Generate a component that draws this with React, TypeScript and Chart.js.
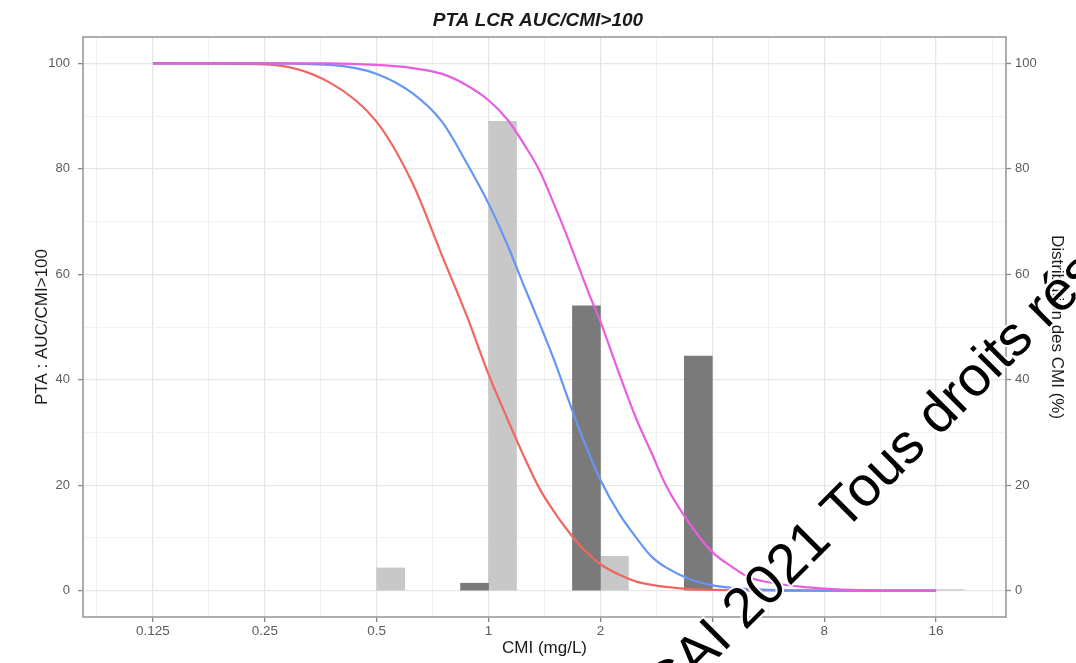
import React, { useEffect, useRef } from 'react';
import { Chart, registerables } from 'chart.js';

Chart.register(...registerables);

// PTA curves evaluated on a CMI grid (mg/L)
const cmiGrid = [0.125, 0.25, 0.375, 0.5, 0.625, 0.75, 0.875, 1, 1.125, 1.25, 1.375, 1.5, 1.625, 1.75, 1.875, 2, 2.25, 2.5, 2.75, 3, 3.5, 4, 4.5, 5, 6, 7, 8, 10, 12, 14, 16];
const ptaRed = [100, 99.8, 96.3, 88.9, 77.2, 63.5, 52.0, 41.0, 32.5, 25.2, 19.2, 15.0, 11.6, 8.8, 6.7, 5.0, 3.0, 1.7, 1.1, 0.7, 0.3, 0.15, 0.08, 0.05, 0.02, 0, 0, 0, 0, 0, 0];
const ptaBlue = [100, 100, 99.7, 98.0, 94.3, 88.9, 81.0, 73.4, 65.5, 57.5, 50.5, 43.8, 37.0, 30.8, 25.5, 21.0, 14.5, 10.0, 6.4, 4.4, 2.1, 1.0, 0.55, 0.3, 0.1, 0.05, 0, 0, 0, 0, 0];
const ptaMagenta = [100, 100, 100, 99.7, 99.1, 98.0, 95.8, 93.0, 89.3, 84.5, 79.5, 73.3, 67.3, 61.3, 55.8, 51.0, 41.0, 32.5, 26.0, 20.0, 12.4, 7.3, 4.6, 2.6, 1.3, 0.7, 0.4, 0.1, 0, 0, 0];

// CMI distributions (%)
const cmiBins = [0.125, 0.25, 0.5, 1, 2, 4, 8, 16];
const distDark = [0, 0, 0, 1.4, 54.0, 44.5, 0, 0];
const distLight = [0, 0, 4.3, 89.0, 6.5, 0, 0, 0.2];

// Tick labels
const xTickValues = [0.125, 0.25, 0.5, 1, 2, 4, 8, 16];
const xTickLabels = ['0.125', '0.25', '0.5', '1', '2', '4', '8', '16'];
const yTickValues = [0, 20, 40, 60, 80, 100];
const yMinorValues = [10, 30, 50, 70, 90];

const titleText = 'PTA LCR AUC/CMI>100';
const yTitle = 'PTA : AUC/CMI>100';
const y2Title = 'Distribution des CMI (%)';
const xTitle = 'CMI (mg/L)';
const watermarkText = 'CAI 2021 Tous droits réservés';

const FONT = '"Liberation Sans", Arial, Helvetica, sans-serif';
const TICK_COLOR = '#5c5c5c';
const MAJOR_GRID = '#e6e6e6';
const MINOR_GRID = '#f2f2f2';
const TICK_MARK = '#8a8a8a';

export default function App() {
  const ref = useRef<HTMLCanvasElement | null>(null);

  useEffect(() => {
    document.body.style.margin = '0';
    const canvas = ref.current;
    if (!canvas) return;

    const xMinorValues: number[] = [xTickValues[0] / Math.SQRT2];
    for (let i = 0; i < xTickValues.length - 1; i++) xMinorValues.push(Math.sqrt(xTickValues[i] * xTickValues[i + 1]));
    xMinorValues.push(xTickValues[xTickValues.length - 1] * Math.SQRT2);
    const xAll = [...xTickValues, ...xMinorValues].sort((a, b) => a - b);
    const isXMajor = (v: number) => xTickValues.some((t) => Math.abs(t - v) < 1e-9);
    const isYMajor = (v: number) => yTickValues.includes(v);

    const xMin = xTickValues[0] / Math.pow(2, 0.625);
    const xMax = xTickValues[xTickValues.length - 1] * Math.pow(2, 0.625);

    const pts = (ys: number[]) => cmiGrid.map((x, i) => ({ x, y: ys[i] }));
    // empty bins are not drawn (null), but keep their slot so dodging stays aligned
    const bars = (ys: number[]) => cmiBins.map((x, i) => ({ x, y: ys[i] > 0 ? ys[i] : null }));

    const framePlugin = {
      id: 'frame',
      afterDatasetsDraw(chart: any) {
        const { ctx, chartArea: a } = chart;
        ctx.save();
        ctx.strokeStyle = '#9a9a9a';
        ctx.lineWidth = 1.6;
        ctx.strokeRect(a.left, a.top, a.right - a.left, a.bottom - a.top);
        ctx.restore();
      },
    };

    const watermarkPlugin = {
      id: 'watermark',
      afterDraw(chart: any) {
        const { ctx } = chart;
        ctx.save();
        ctx.translate(668, 708);
        ctx.rotate((-45 * Math.PI) / 180);
        ctx.font = `56px ${FONT}`;
        ctx.textBaseline = 'alphabetic';
        ctx.lineJoin = 'round';
        ctx.strokeStyle = 'rgba(255,255,255,0.9)';
        ctx.lineWidth = 4;
        ctx.strokeText(watermarkText, 0, 0);
        ctx.fillStyle = '#000';
        ctx.fillText(watermarkText, 0, 0);
        ctx.restore();
      },
    };

    const chart = new Chart(canvas, {
      type: 'bar',
      data: {
        datasets: [
          {
            type: 'bar',
            label: 'dark',
            data: bars(distDark),
            yAxisID: 'y1',
            backgroundColor: '#7a7a7a',
            borderWidth: 0,
            barThickness: 28,
            order: 10,
          },
          {
            type: 'bar',
            label: 'light',
            data: bars(distLight),
            yAxisID: 'y1',
            backgroundColor: '#c8c8c8',
            borderWidth: 0,
            barThickness: 28,
            order: 10,
          },
          {
            type: 'line',
            label: 'red',
            data: pts(ptaRed),
            yAxisID: 'y',
            borderColor: '#f0675f',
            borderWidth: 2.2,
            pointRadius: 0,
            cubicInterpolationMode: 'monotone',
            order: 3,
          },
          {
            type: 'line',
            label: 'blue',
            data: pts(ptaBlue),
            yAxisID: 'y',
            borderColor: '#6596f5',
            borderWidth: 2.2,
            pointRadius: 0,
            cubicInterpolationMode: 'monotone',
            order: 2,
          },
          {
            type: 'line',
            label: 'magenta',
            data: pts(ptaMagenta),
            yAxisID: 'y',
            borderColor: '#e75ee0',
            borderWidth: 2.2,
            pointRadius: 0,
            cubicInterpolationMode: 'monotone',
            order: 1,
          },
        ] as any,
      },
      options: {
        animation: false,
        responsive: false,
        devicePixelRatio: 1,
        layout: { padding: 0, autoPadding: false },
        plugins: {
          legend: { display: false },
          tooltip: { enabled: false },
          title: {
            display: true,
            text: titleText,
            color: '#1a1a1a',
            font: { family: FONT, size: 19, weight: 'bold', style: 'italic', lineHeight: 1.2 },
            padding: { top: 9.6, bottom: 4.6 },
          },
        },
        scales: {
          x: {
            type: 'logarithmic',
            min: xMin,
            max: xMax,
            bounds: 'data',
            offset: false,
            afterBuildTicks: (s: any) => {
              s.ticks = xAll.map((v) => ({ value: v }));
            },
            afterFit: (s: any) => {
              s.height = 46;
            },
            ticks: {
              autoSkip: false,
              maxRotation: 0,
              minRotation: 0,
              padding: 1,
              color: TICK_COLOR,
              font: { family: FONT, size: 13.5 },
              callback: (v: any) => {
                const i = xTickValues.findIndex((t) => Math.abs(t - Number(v)) < 1e-9);
                return i >= 0 ? xTickLabels[i] : '';
              },
            },
            grid: {
              offset: false,
              tickLength: 5,
              color: (c: any) => (isXMajor(c.tick?.value) ? MAJOR_GRID : MINOR_GRID),
              lineWidth: (c: any) => (isXMajor(c.tick?.value) ? 1.3 : 1),
              tickColor: (c: any) => (isXMajor(c.tick?.value) ? TICK_MARK : 'rgba(0,0,0,0)'),
              tickWidth: 1.3,
            },
            border: { display: false },
            title: {
              display: true,
              text: xTitle,
              color: '#1a1a1a',
              font: { family: FONT, size: 17, lineHeight: 1.2 },
              padding: { top: 0, bottom: 4.8 },
            },
          },
          y: {
            type: 'linear',
            position: 'left',
            min: -5,
            max: 105,
            afterBuildTicks: (s: any) => {
              s.ticks = [...yTickValues, ...yMinorValues].sort((a, b) => a - b).map((v) => ({ value: v }));
            },
            afterFit: (s: any) => {
              s.width = 83;
            },
            ticks: {
              padding: 8,
              color: TICK_COLOR,
              font: { family: FONT, size: 13 },
              callback: (v: any) => (isYMajor(Number(v)) ? String(v) : ''),
            },
            grid: {
              tickLength: 5,
              color: (c: any) => (isYMajor(c.tick?.value) ? MAJOR_GRID : MINOR_GRID),
              lineWidth: (c: any) => (isYMajor(c.tick?.value) ? 1.3 : 1),
              tickColor: (c: any) => (isYMajor(c.tick?.value) ? TICK_MARK : 'rgba(0,0,0,0)'),
              tickWidth: 1.3,
            },
            border: { display: false },
            title: {
              display: true,
              text: yTitle,
              color: '#1a1a1a',
              font: { family: FONT, size: 17, lineHeight: 1.2 },
              padding: { top: 31.8, bottom: 0 },
            },
          },
          y1: {
            type: 'linear',
            position: 'right',
            min: -5,
            max: 105,
            afterBuildTicks: (s: any) => {
              s.ticks = yTickValues.map((v) => ({ value: v }));
            },
            afterFit: (s: any) => {
              s.width = 70;
            },
            ticks: {
              padding: 4,
              color: TICK_COLOR,
              font: { family: FONT, size: 13 },
            },
            grid: {
              drawOnChartArea: false,
              tickLength: 5,
              tickColor: TICK_MARK,
              tickWidth: 1.3,
            },
            border: { display: false },
            title: {
              display: true,
              text: y2Title,
              color: '#1a1a1a',
              font: { family: FONT, size: 17, lineHeight: 1.2 },
              padding: { top: 8.8, bottom: 0 },
            },
          },
        },
      } as any,
      plugins: [framePlugin, watermarkPlugin],
    });

    return () => chart.destroy();
  }, []);

  return (
    <div style={{ position: 'fixed', left: 0, top: 0, width: 1076, height: 663, background: '#fff' }}>
      <canvas ref={ref} width={1076} height={663} style={{ width: 1076, height: 663, display: 'block' }} />
    </div>
  );
}
